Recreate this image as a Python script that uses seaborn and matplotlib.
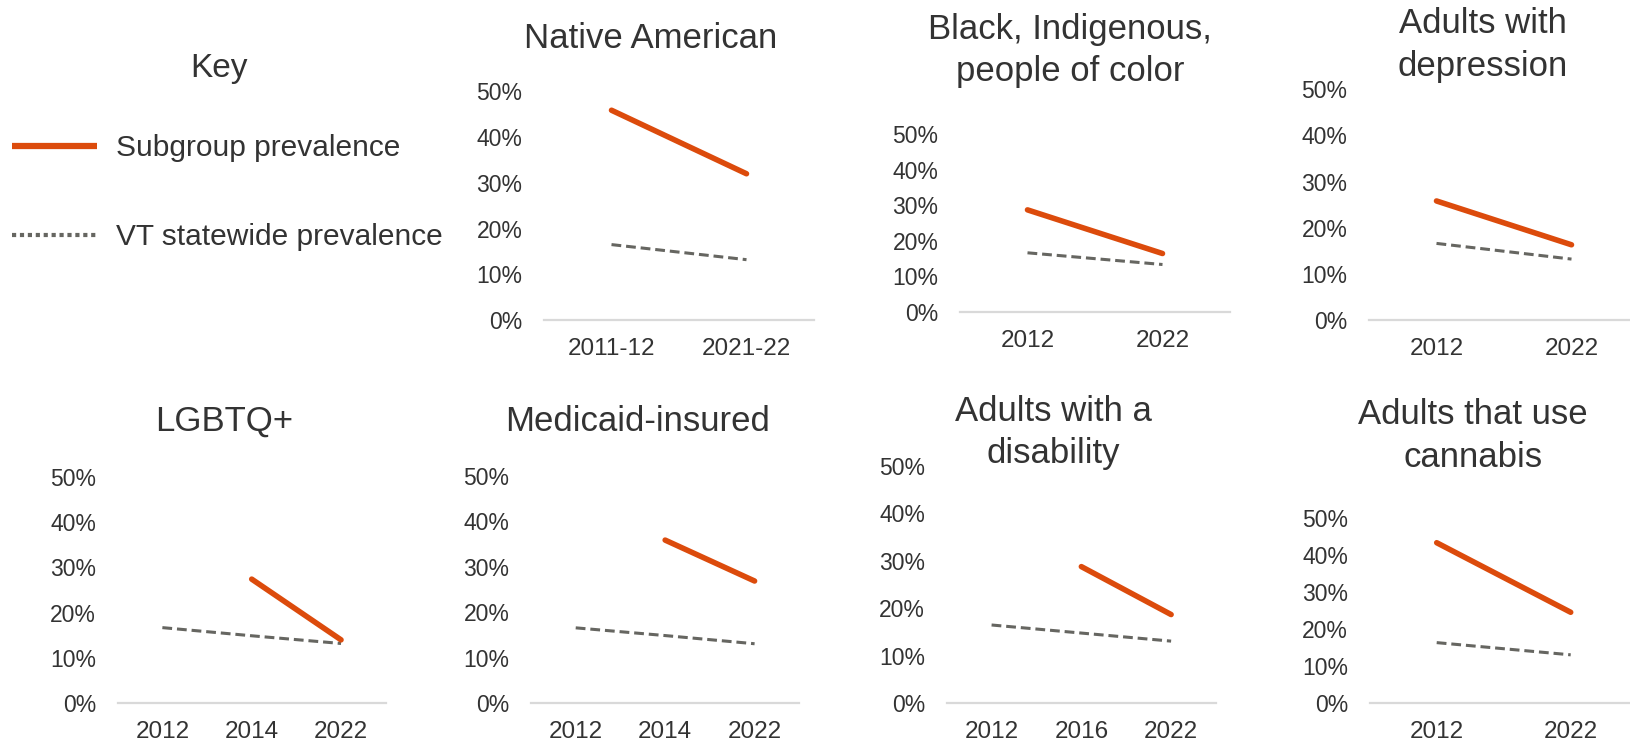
import numpy as np
import pandas as pd
import matplotlib
matplotlib.use("Agg")
import matplotlib.pyplot as plt
from matplotlib.lines import Line2D
import seaborn as sns

# ---------------- data (percent) ----------------
native_years = ["2011-12", "2021-22"]
native_sub = [45.9, 32.0]
native_state = [16.5, 13.2]

bipoc_years = ["2012", "2022"]
bipoc_sub = [28.7, 16.4]
bipoc_state = [16.6, 13.3]

depression_years = ["2012", "2022"]
depression_sub = [25.8, 16.3]
depression_state = [16.6, 13.2]

lgbtq_years = ["2012", "2014", "2022"]
lgbtq_sub = [np.nan, 27.4, 14.0]
lgbtq_state = [16.7, 14.9, 13.2]

medicaid_years = ["2012", "2014", "2022"]
medicaid_sub = [np.nan, 35.9, 26.9]
medicaid_state = [16.6, 14.9, 13.1]

disability_years = ["2012", "2016", "2022"]
disability_sub = [np.nan, 28.8, 18.7]
disability_state = [16.5, 14.8, 13.1]

cannabis_years = ["2012", "2022"]
cannabis_sub = [43.4, 24.6]
cannabis_state = [16.4, 13.1]

titles = ["Native American", "Black, Indigenous,\npeople of color", "Adults with\ndepression",
          "LGBTQ+", "Medicaid-insured", "Adults with a\ndisability", "Adults that use\ncannabis"]
y_ticks = [0, 10, 20, 30, 40, 50]
y_tick_labels = [f"{v}%" for v in y_ticks]
key_labels = ["Subgroup prevalence", "VT statewide prevalence"]

panels_data = [
    (native_years, native_sub, native_state),
    (bipoc_years, bipoc_sub, bipoc_state),
    (depression_years, depression_sub, depression_state),
    (lgbtq_years, lgbtq_sub, lgbtq_state),
    (medicaid_years, medicaid_sub, medicaid_state),
    (disability_years, disability_sub, disability_state),
    (cannabis_years, cannabis_sub, cannabis_state),
]

# ---------------- layout (pixels in a 1631x744 canvas) ----------------
W, H = 1631, 744
# left, right, y of 0%, y of 50%, title centre x, title centre y
layout = [
    (544, 814, 320, 91.5, 651, 38),
    (960, 1230, 311.7, 134.3, 1070, 50.5),
    (1369, 1639, 320, 89.3, 1482.5, 45),
    (117.7, 385.7, 703.3, 476.7, 224.5, 421.7),
    (531, 799.3, 703.3, 476, 637.7, 421.7),
    (946.7, 1216, 703.3, 466, 1053.3, 432.5),
    (1369.7, 1637.7, 703.3, 518.3, 1473.3, 436),
]

ORANGE = "#DC4B0C"
GREY = "#666661"
BASE = "#D9D9D9"
TXT = "#333333"

sns.set_theme(style="white")
plt.rcParams["font.family"] = ["Liberation Sans", "DejaVu Sans"]
plt.rcParams["text.color"] = TXT

fig = plt.figure(figsize=(W / 100, H / 100), dpi=100)
fig.patch.set_facecolor("white")

for (years, sub, state), (l, r, y0, y50, tx, ty), title in zip(panels_data, layout, titles):
    ax = fig.add_axes([l / W, 1 - y0 / H, (r - l) / W, (y0 - y50) / H])
    ax.set_facecolor("none")
    pos = np.arange(len(years))
    df = pd.DataFrame({"pos": pos, "sub": sub, "state": state})
    sns.lineplot(data=df, x="pos", y="state", ax=ax, color=GREY, linewidth=2.2,
                 linestyle=(0, (3.2, 1.6)), dash_capstyle="butt", clip_on=False, legend=False)
    sns.lineplot(data=df.dropna(), x="pos", y="sub", ax=ax, color=ORANGE, linewidth=4.0,
                 solid_capstyle="round", clip_on=False, legend=False)
    ax.set_xlim(-0.5, len(years) - 0.5)
    ax.set_ylim(0, 50)
    ax.set_xticks(pos)
    ax.set_xticklabels(years)
    ax.set_yticks(y_ticks)
    ax.set_yticklabels(y_tick_labels)
    ax.set_xlabel("")
    ax.set_ylabel("")
    for s in ["top", "right", "left"]:
        ax.spines[s].set_visible(False)
    ax.spines["bottom"].set_color(BASE)
    ax.spines["bottom"].set_linewidth(1.6)
    ax.tick_params(axis="y", length=0, pad=15.5, labelsize=16.5, labelcolor=TXT)
    ax.tick_params(axis="x", length=0, pad=13, labelsize=17.5, labelcolor=TXT)
    ax.grid(False)
    fig.text(tx / W, 1 - ty / H, title, ha="center", va="center", fontsize=25,
             color=TXT, linespacing=1.38)

# ---------------- key ----------------
fig.text(218.7 / W, 1 - 68 / H, "Key", ha="center", va="center", fontsize=24, color=TXT)
handles = [
    Line2D([], [], color=ORANGE, linewidth=4.5, solid_capstyle="butt"),
    Line2D([], [], color=GREY, linewidth=3.0, linestyle=(0, (1.0, 0.9)), dash_capstyle="butt"),
]
fig.legend(handles, key_labels, loc="upper left", bbox_to_anchor=(12 / W, 1 - 134 / H),
           frameon=False, fontsize=21.5, handlelength=2.85, handletextpad=0.62,
           labelspacing=2.05, borderpad=0, borderaxespad=0, labelcolor=TXT)

fig.savefig("out.png", dpi=100, facecolor="white")
